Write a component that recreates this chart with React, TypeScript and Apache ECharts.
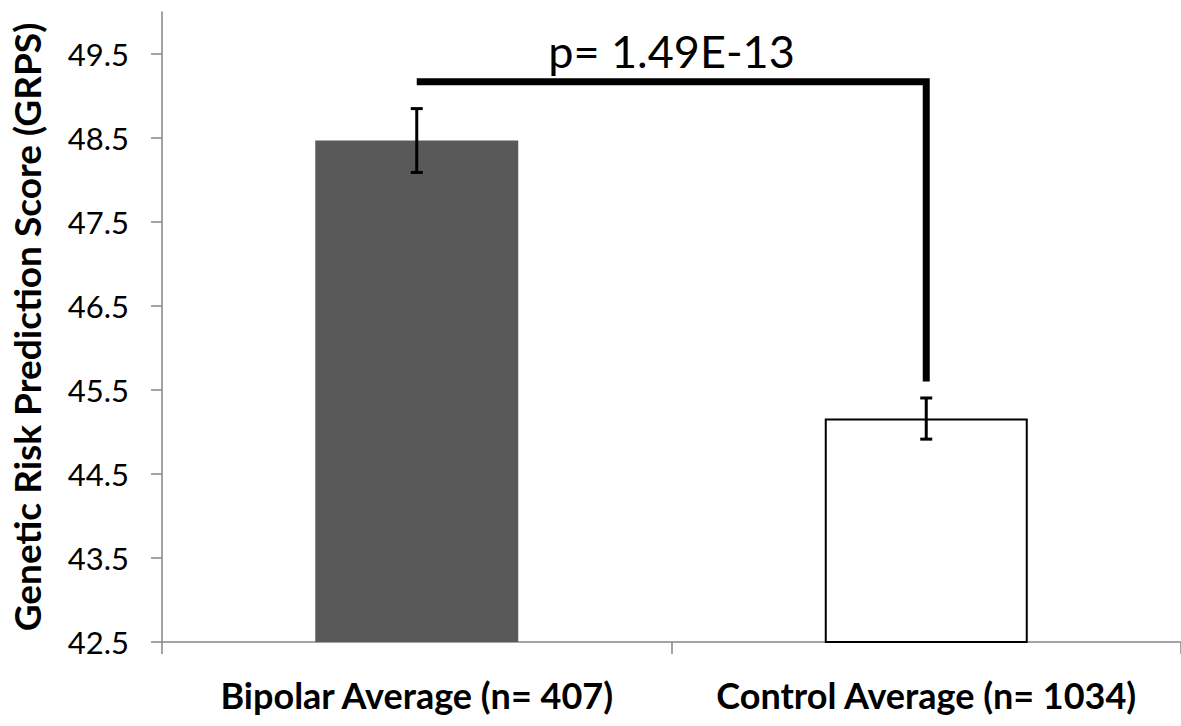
import React, { useEffect, useRef } from "react";
import * as echarts from "echarts";

const categories = ["Bipolar Average (n= 407)", "Control Average (n= 1034)"];
const means = [48.47, 45.16];
const errors = [0.38, 0.245];
const yTicks = [42.5, 43.5, 44.5, 45.5, 46.5, 47.5, 48.5, 49.5];
const bracket = [[0, 1, 49.17, 45.6]];
const pLabel = "p= 1.49E-13";
const yTitle = "Genetic Risk Prediction Score (GRPS)";

export default function App() {
  const ref = useRef<HTMLDivElement>(null);
  useEffect(() => {
    document.body.style.margin = "0";
    const chart = echarts.init(ref.current!, null, { renderer: "svg" });
    const font = "Lato, 'Open Sans', sans-serif";
    chart.setOption({
      animation: false,
      backgroundColor: "#ffffff",
      grid: { left: 161, top: 12, width: 1024, height: 630, containLabel: false },
      xAxis: {
        type: "category",
        data: categories,
        boundaryGap: true,
        axisLine: { lineStyle: { color: "#868686", width: 1.5 } },
        axisTick: { show: true, length: 12, lineStyle: { color: "#868686", width: 1.5 } },
        axisLabel: {
          color: "#000",
          fontFamily: font,
          fontWeight: "bold",
          fontSize: 36,
          margin: 35,
          interval: 0,
          hideOverlap: false,
        },
      },
      yAxis: {
        type: "value",
        min: 42.5,
        max: 50,
        interval: 1,
        name: yTitle,
        nameLocation: "middle",
        nameGap: 117,
        nameRotate: 90,
        nameTextStyle: { color: "#000", fontFamily: font, fontWeight: "bold", fontSize: 37 },
        splitLine: { show: false },
        axisLine: { show: true, lineStyle: { color: "#868686", width: 1.5 } },
        axisTick: {
          show: true,
          length: 11,
          customValues: yTicks,
          lineStyle: { color: "#868686", width: 1.5 },
        },
        axisLabel: {
          color: "#000",
          fontFamily: font,
          fontSize: 31,
          margin: 33,
          customValues: yTicks,
          formatter: (v: number) => v.toFixed(1),
        },
      },
      series: [
        {
          type: "bar",
          barWidth: 203,
          data: means.map((m, i) => ({
            value: m,
            itemStyle:
              i === 0
                ? { color: "#595959" }
                : { color: "#ffffff", borderColor: "#000", borderWidth: 2 },
          })),
        },
        {
          type: "custom",
          data: means.map((m, i) => [i, m, errors[i]]),
          encode: { x: 0, y: 1 },
          z: 5,
          renderItem: (params: any, api: any) => {
            const x = api.value(0);
            const m = api.value(1);
            const e = api.value(2);
            const top = api.coord([x, m + e]);
            const bot = api.coord([x, m - e]);
            const hw = 6;
            const st = { stroke: "#000", lineWidth: 3 };
            return {
              type: "group",
              children: [
                { type: "line", shape: { x1: top[0], y1: top[1], x2: bot[0], y2: bot[1] }, style: st },
                { type: "line", shape: { x1: top[0] - hw, y1: top[1], x2: top[0] + hw, y2: top[1] }, style: st },
                { type: "line", shape: { x1: bot[0] - hw, y1: bot[1], x2: bot[0] + hw, y2: bot[1] }, style: st },
              ],
            };
          },
        },
        {
          type: "custom",
          data: bracket,
          encode: { x: 0, y: 2 },
          z: 6,
          clip: false,
          renderItem: (params: any, api: any) => {
            const a = api.value(0);
            const b = api.value(1);
            const yTop = api.value(2);
            const yEnd = api.value(3);
            const p0 = api.coord([a, yTop]);
            const p1 = api.coord([b, yTop]);
            const p2 = api.coord([b, yEnd]);
            return {
              type: "group",
              children: [
                {
                  type: "polyline",
                  shape: { points: [p0, p1, p2] },
                  style: { stroke: "#000", lineWidth: 7, fill: "none", lineJoin: "miter" },
                },
                {
                  type: "text",
                  style: {
                    text: pLabel,
                    x: (p0[0] + p1[0]) / 2,
                    y: p0[1] - 8,
                    align: "center",
                    verticalAlign: "bottom",
                    fill: "#000",
                    fontFamily: font,
                    fontSize: 45,
                  },
                },
              ],
            };
          },
        },
      ],
    });
    return () => chart.dispose();
  }, []);
  return (
    <div
      ref={ref}
      style={{ position: "fixed", left: 0, top: 0, width: 1181, height: 726 }}
    />
  );
}
